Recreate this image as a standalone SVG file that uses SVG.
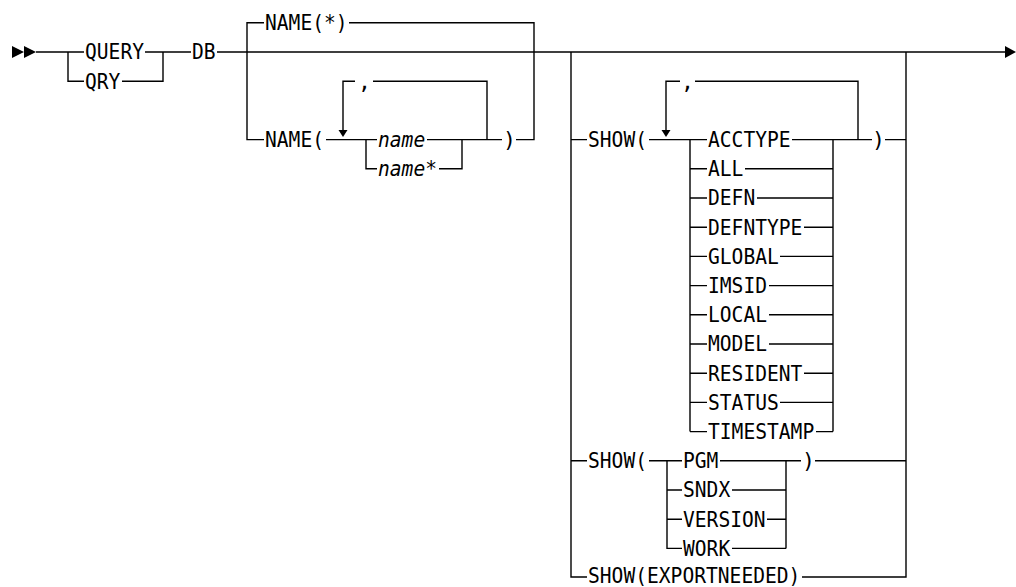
<svg xmlns="http://www.w3.org/2000/svg" width="1016" height="587" viewBox="0 0 1016 587">
<style>
.t{font-family:"DejaVu Sans Mono","Liberation Mono",monospace;font-size:21.5px;fill:#000}
.i{font-style:italic}
.r{stroke:#000;stroke-width:1.4;fill:none}
.a{fill:#000;stroke:none}
</style>
<rect width="1016" height="587" fill="#fff"/>
<g id="connectors">
<path class="r" d="M36 52H84M68 52V81.2H84M145 52H191M122 81.2H163V52M217 52H1005"/>
<polygon class="a" points="12,46 24,52 12,58"/>
<polygon class="a" points="24,46 36,52 24,58"/>
<polygon class="a" points="1005,46 1016,52 1005,58"/>
<path class="r" d="M247 52V22.8H264M349 22.8H534V52M247 52V139.6H264M326 139.6H377M487 139.6V81.2H373M355 81.2H343V130M366 139.6V168.8H377M427 139.6H502M439 168.8H462V139.6M516 139.6H534V52"/>
<polygon class="a" points="338.5,130 347.5,130 343,137"/>
<path class="r" d="M571 52V577H587M571 139.6H587M649 139.6H707M858 139.6V81.2H695M680 81.2H666V130M690 139.6V431.6M690 168.8H707M690 198H707M690 227.2H707M690 256.4H707M690 285.6H707M690 314.8H707M690 344H707M690 373.2H707M690 402.4H707M690 431.6H707M833 139.6V431.6M792 139.6H872M745 168.8H833M757 198H833M804 227.2H833M780 256.4H833M769 285.6H833M769 314.8H833M769 344H833M804 373.2H833M780 402.4H833M816 431.6H833M885 139.6H906M906 52V577H802"/>
<polygon class="a" points="661.5,130 670.5,130 666,137"/>
<path class="r" d="M571 460.8H587M649 460.8H682M667 460.8V548.4H682M667 490H682M667 519.2H682M786 460.8V548.4M720 460.8H801M732 490H786M767 519.2H786M732 548.4H786M815 460.8H906"/>
</g>
<g id="query"><text class="t" x="85" y="59.3" textLength="59" lengthAdjust="spacingAndGlyphs">QUERY</text></g>
<g id="qry"><text class="t" x="85" y="88.5" textLength="35.4" lengthAdjust="spacingAndGlyphs">QRY</text></g>
<g id="db"><text class="t" x="192" y="59.3" textLength="23.6" lengthAdjust="spacingAndGlyphs">DB</text></g>
<g id="name-star"><text class="t" x="265" y="30.1" textLength="82.6" lengthAdjust="spacingAndGlyphs">NAME(*)</text></g>
<g id="name-open"><text class="t" x="265" y="146.9" textLength="59" lengthAdjust="spacingAndGlyphs">NAME(</text></g>
<g id="name-comma"><text class="t" x="358" y="88.5">,</text></g>
<g id="name"><text class="t i" x="378" y="146.9" textLength="47.2" lengthAdjust="spacingAndGlyphs">name</text></g>
<g id="name-wild"><text class="t i" x="378" y="176.1" textLength="59" lengthAdjust="spacingAndGlyphs">name*</text></g>
<g id="name-close"><text class="t" x="503" y="146.9">)</text></g>
<g id="show1"><text class="t" x="588" y="146.9" textLength="59" lengthAdjust="spacingAndGlyphs">SHOW(</text></g>
<g id="show1-comma"><text class="t" x="681" y="88.5">,</text></g>
<g id="show1-items">
<text class="t" x="708" y="146.9" textLength="82.6" lengthAdjust="spacingAndGlyphs">ACCTYPE</text>
<text class="t" x="708" y="176.1" textLength="35.4" lengthAdjust="spacingAndGlyphs">ALL</text>
<text class="t" x="708" y="205.3" textLength="47.2" lengthAdjust="spacingAndGlyphs">DEFN</text>
<text class="t" x="708" y="234.5" textLength="94.4" lengthAdjust="spacingAndGlyphs">DEFNTYPE</text>
<text class="t" x="708" y="263.7" textLength="70.8" lengthAdjust="spacingAndGlyphs">GLOBAL</text>
<text class="t" x="708" y="292.9" textLength="59" lengthAdjust="spacingAndGlyphs">IMSID</text>
<text class="t" x="708" y="322.1" textLength="59" lengthAdjust="spacingAndGlyphs">LOCAL</text>
<text class="t" x="708" y="351.3" textLength="59" lengthAdjust="spacingAndGlyphs">MODEL</text>
<text class="t" x="708" y="380.5" textLength="94.4" lengthAdjust="spacingAndGlyphs">RESIDENT</text>
<text class="t" x="708" y="409.7" textLength="70.8" lengthAdjust="spacingAndGlyphs">STATUS</text>
<text class="t" x="708" y="438.9" textLength="106.2" lengthAdjust="spacingAndGlyphs">TIMESTAMP</text>
</g>
<g id="show1-close"><text class="t" x="872" y="146.9">)</text></g>
<g id="show2"><text class="t" x="588" y="468.1" textLength="59" lengthAdjust="spacingAndGlyphs">SHOW(</text></g>
<g id="show2-items">
<text class="t" x="683" y="468.1" textLength="35.4" lengthAdjust="spacingAndGlyphs">PGM</text>
<text class="t" x="683" y="497.3" textLength="47.2" lengthAdjust="spacingAndGlyphs">SNDX</text>
<text class="t" x="683" y="526.5" textLength="82.6" lengthAdjust="spacingAndGlyphs">VERSION</text>
<text class="t" x="683" y="555.7" textLength="47.2" lengthAdjust="spacingAndGlyphs">WORK</text>
</g>
<g id="show2-close"><text class="t" x="802" y="468.1">)</text></g>
<g id="show-export"><text class="t" x="588" y="582.6" style="font-size:20.5px" textLength="212.4" lengthAdjust="spacingAndGlyphs">SHOW(EXPORTNEEDED)</text></g>
</svg>
